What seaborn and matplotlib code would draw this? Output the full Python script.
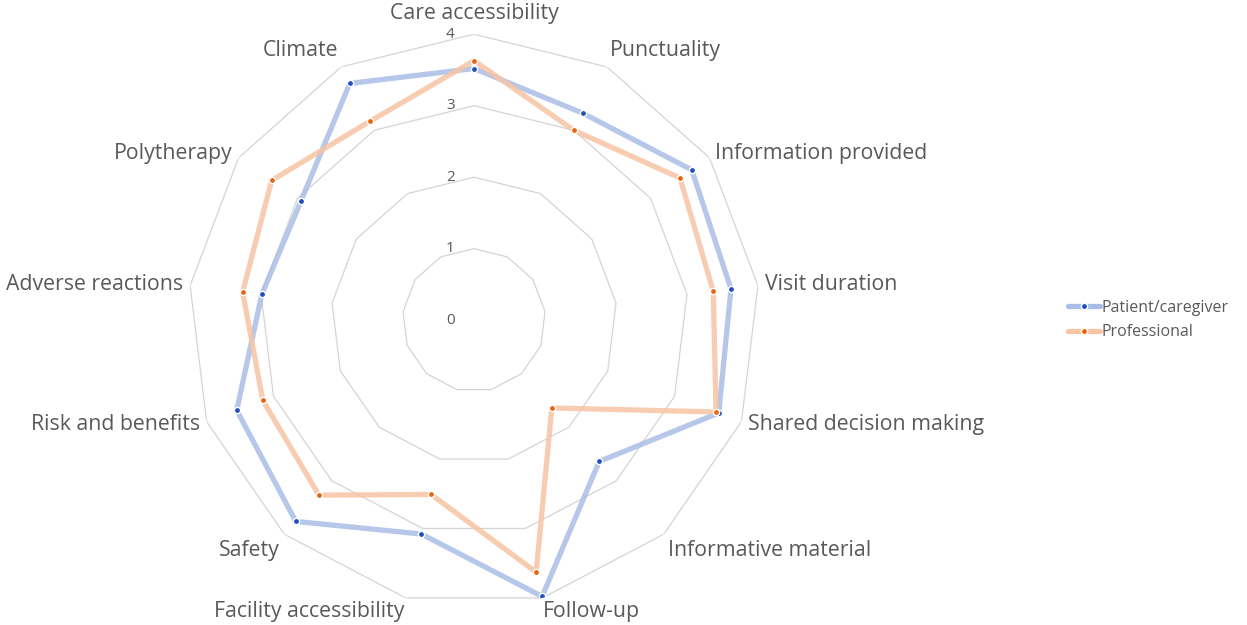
import numpy as np
import pandas as pd
import seaborn as sns
import matplotlib
matplotlib.use("Agg")
import matplotlib.pyplot as plt
from matplotlib.lines import Line2D

# Categories, clockwise from the top
categories = ["Care accessibility", "Punctuality", "Information provided", "Visit duration",
              "Shared decision making", "Informative material", "Follow-up",
              "Facility accessibility", "Safety", "Risk and benefits",
              "Adverse reactions", "Polytherapy", "Climate"]
patient = [3.52, 3.27, 3.70, 3.62, 3.66, 2.64, 3.98, 3.08, 3.76, 3.55, 2.99, 2.94, 3.74]
professional = [3.63, 3.00, 3.50, 3.37, 3.62, 1.64, 3.63, 2.51, 3.27, 3.16, 3.26, 3.44, 3.14]
series_names = ["Patient/caregiver", "Professional"]
r_ticks = [0, 1, 2, 3, 4]

line_colors = ["#a9bde6", "#f7c4a4"]
dot_colors = ["#1f4fbf", "#e8650f"]

sns.set_style("white")
plt.rcParams["font.family"] = ["Open Sans", "DejaVu Sans"]
text_gray = "#595959"

n = len(categories)
angles = np.linspace(0, 2 * np.pi, n, endpoint=False)

# long-form table, first point repeated at 2*pi to close each polygon
rows = []
for name, vals in zip(series_names, [patient, professional]):
    thetas = list(angles) + [2 * np.pi]
    for k, (t, v) in enumerate(zip(thetas, list(vals) + [vals[0]])):
        rows.append({"series": name, "theta": t, "value": v, "closing": k == n})
df = pd.DataFrame(rows)

fig = plt.figure(figsize=(12.47, 6.25), dpi=100)
ax = fig.add_axes([0.1508, 0.0301, 0.4587, 0.9152], projection="polar")
ax.set_theta_zero_location("N")
ax.set_theta_direction(-1)
ax.set_ylim(0, 4)
ax.grid(False)
ax.spines["polar"].set_visible(False)
ax.set_xticks([])
ax.set_yticks([])

# polygon gridlines
closed = np.append(angles, angles[0])
for lv in r_ticks[1:]:
    ax.plot(closed, [lv] * (n + 1), color="#d4d4d4", lw=0.9, zorder=1)
for lv in r_ticks:
    ax.annotate(str(lv), xy=(0, lv), xytext=(-14, 0), textcoords="offset points",
                ha="right", va="center", fontsize=11, color=text_gray)

for name, lc, dc in zip(series_names, line_colors, dot_colors):
    sub = df[df["series"] == name]
    sns.lineplot(data=sub, x="theta", y="value", sort=False, ax=ax, color=lc,
                 lw=3.8, alpha=0.85, zorder=2, legend=False)
    sns.scatterplot(data=sub[~sub["closing"]], x="theta", y="value", ax=ax, color=dc,
                    s=20, edgecolor="white", linewidth=1.0, zorder=3, legend=False)
ax.set_xlabel("")
ax.set_ylabel("")

# category labels
for ang, lab in zip(angles, categories):
    s, c = np.sin(ang), np.cos(ang)
    ha = "center" if abs(s) < 0.1 else ("left" if s > 0 else "right")
    if c > 0.95:
        va, rr = "bottom", 4.14
    elif c > 0.6:
        va, rr = "bottom", 4.1
    elif c < -0.9:
        va, rr = "top", 4.05
    elif c < -0.6:
        va, rr = "top", 4.1
    else:
        va, rr = "center", 4.1
    ax.text(ang, rr, lab, ha=ha, va=va, fontsize=15.3, color=text_gray)

handles = [Line2D([0], [0], color=lc, lw=3.8, marker="o", markersize=4.5,
                  markerfacecolor=dc, markeredgecolor="white")
           for lc, dc in zip(line_colors, dot_colors)]
fig.legend(handles, series_names, loc="center left", bbox_to_anchor=(0.845, 0.488),
           frameon=False, fontsize=11.5, labelcolor=text_gray, handlelength=2.0,
           handletextpad=0.1, labelspacing=0.55)

fig.savefig("out.png", dpi=100)
